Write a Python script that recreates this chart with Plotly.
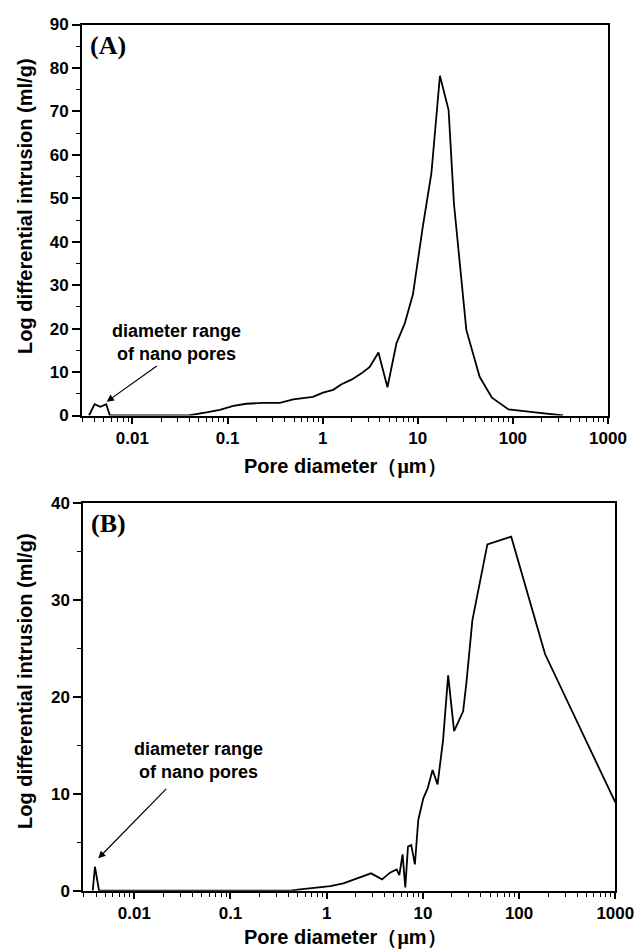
import plotly.graph_objects as go

# ---- data ----
a_diam = [0.0035, 0.004, 0.0046, 0.0053, 0.0058, 0.039, 0.06, 0.083, 0.115, 0.158,
          0.237, 0.355, 0.49, 0.68, 0.79, 1.01, 1.29, 1.58, 2.01, 2.56, 3.13, 3.86,
          4.8, 5.97, 7.3, 8.9, 11.3, 13.9, 17.1, 21.1, 24.0, 32.4, 44.7, 60.2, 90,
          162, 337]
a_intr = [0, 2.6, 2.0, 2.6, 0, 0, 0.7, 1.3, 2.2, 2.7,
          2.9, 2.9, 3.7, 4.1, 4.3, 5.25, 5.9, 7.2, 8.25, 9.7, 11.2, 14.5,
          6.5, 16.6, 21.2, 27.9, 43.5, 55.7, 78.2, 70.3, 48.8, 19.7, 8.9, 4.1, 1.4,
          0.8, 0]

b_diam = [0.0037, 0.0039, 0.0043, 0.42, 0.53, 0.85, 1.09, 1.49, 2.05, 2.89, 3.76,
          4.55, 5.33, 5.69, 6.15, 6.56, 7.0, 7.57, 8.26, 8.95, 10.1, 11.2, 12.6,
          14.2, 16.2, 18.3, 21.1, 26.2, 28.3, 32.7, 46.8, 82.8, 186, 1000]
b_intr = [0, 2.47, 0, 0, 0.14, 0.41, 0.48, 0.76, 1.24, 1.79, 1.17,
          1.86, 2.2, 1.62, 3.75, 0.34, 4.54, 4.7, 2.71, 7.29, 9.52, 10.55, 12.44,
          10.96, 15.5, 22.2, 16.46, 18.5, 21.4, 27.9, 35.7, 36.5, 24.4, 9.1]

x_tickvals = [0.01, 0.1, 1, 10, 100, 1000]
x_ticktext = ["0.01", "0.1", "1", "10", "100", "1000"]
x_minor = [m * 10 ** e for e in range(-3, 3) for m in range(2, 10) if m * 10 ** e >= 0.003]

a_yticks = [0, 10, 20, 30, 40, 50, 60, 70, 80, 90]
b_yticks = [0, 10, 20, 30, 40]

W, H = 635, 950
SANS = "Liberation Sans"
SERIF = "Liberation Serif"

fig = go.Figure()
fig.add_trace(go.Scatter(x=a_diam, y=a_intr, mode="lines",
                         line=dict(color="black", width=1.8), xaxis="x", yaxis="y",
                         showlegend=False))
fig.add_trace(go.Scatter(x=b_diam, y=b_intr, mode="lines",
                         line=dict(color="black", width=1.8), xaxis="x2", yaxis="y2",
                         showlegend=False))

tick_font = dict(family=SANS, size=17, color="black", weight="bold")

def xaxis(domain, anchor):
    return dict(type="log", range=[-2.53, 3], domain=domain, anchor=anchor,
                showline=True, linecolor="black", linewidth=2, mirror=True,
                showgrid=False, zeroline=False, automargin=False,
                tickmode="array", tickvals=x_tickvals, ticktext=x_ticktext,
                ticks="outside", ticklen=6, tickwidth=1.5, tickcolor="black",
                minor=dict(tickmode="array", tickvals=x_minor, ticks="outside",
                           ticklen=4, tickwidth=1.2, tickcolor="black", showgrid=False),
                tickfont=tick_font)

def yaxis(domain, anchor, rng, tv, minor_step):
    return dict(range=rng, domain=domain, anchor=anchor,
                showline=True, linecolor="black", linewidth=2, mirror=True,
                showgrid=False, zeroline=False, automargin=False,
                tickmode="array", tickvals=tv,
                ticks="outside", ticklen=8, tickwidth=1.5, tickcolor="black",
                minor=dict(dtick=minor_step, ticks="outside", ticklen=4,
                           tickwidth=1.2, tickcolor="black", showgrid=False),
                tickfont=tick_font)

fig.update_layout(
    width=W, height=H,
    margin=dict(l=0, r=0, t=0, b=0, pad=0, autoexpand=False),
    paper_bgcolor="white", plot_bgcolor="white",
    xaxis=xaxis([82 / W, 608 / W], "y"),
    yaxis=yaxis([1 - 415.5 / H, 1 - 24.5 / H], "x", [0, 90], a_yticks, 5),
    xaxis2=xaxis([83.3 / W, 615.3 / W], "y2"),
    yaxis2=yaxis([1 - 890.7 / H, 1 - 502.7 / H], "x2", [0, 40], b_yticks, 5),
)

title_font = dict(family=SANS, size=20, color="black", weight="bold")
note_font = dict(family=SANS, size=18, color="black", weight="bold")
xtitle = "Pore diameter（<span style='font-family:Liberation Serif'>μ</span>m）"
ytitle = "Log differential intrusion (ml/g)"

def px(x):
    return x / W

def py(y):
    return 1 - y / H

anns = [
    # panel labels
    dict(x=px(108), y=py(45), text="(A)", font=dict(family=SERIF, size=26, color="black", weight="bold")),
    dict(x=px(108), y=py(523), text="(B)", font=dict(family=SERIF, size=26, color="black", weight="bold")),
    # axis titles
    dict(x=px(345), y=py(466), text=xtitle, font=title_font),
    dict(x=px(345), y=py(937), text=xtitle, font=title_font),
    dict(x=px(25), y=py(206), text=ytitle, font=title_font, textangle=-90),
    dict(x=px(25), y=py(681), text=ytitle, font=title_font, textangle=-90),
    # notes
    dict(x=px(176), y=py(343), text="diameter range<br>of nano pores", font=note_font),
    dict(x=px(198), y=py(760), text="diameter range<br>of nano pores", font=note_font),
]
for a in anns:
    a.update(xref="paper", yref="paper", showarrow=False, xanchor="center", yanchor="middle")

arrows = [
    dict(x=px(106.7), y=py(401.7), ax=51.6, ay=-36.7),
    dict(x=px(98.3), y=py(858.3), ax=69.4, ay=-71.0),
]
for a in arrows:
    a.update(xref="paper", yref="paper", text="", showarrow=True, arrowhead=2,
             arrowsize=1.2, arrowwidth=1.2, arrowcolor="black")

fig.update_layout(annotations=anns + arrows)
fig.write_html("out.html", config={"displayModeBar": False},
               post_script="document.body.style.margin='0';document.body.style.overflow='hidden';")
